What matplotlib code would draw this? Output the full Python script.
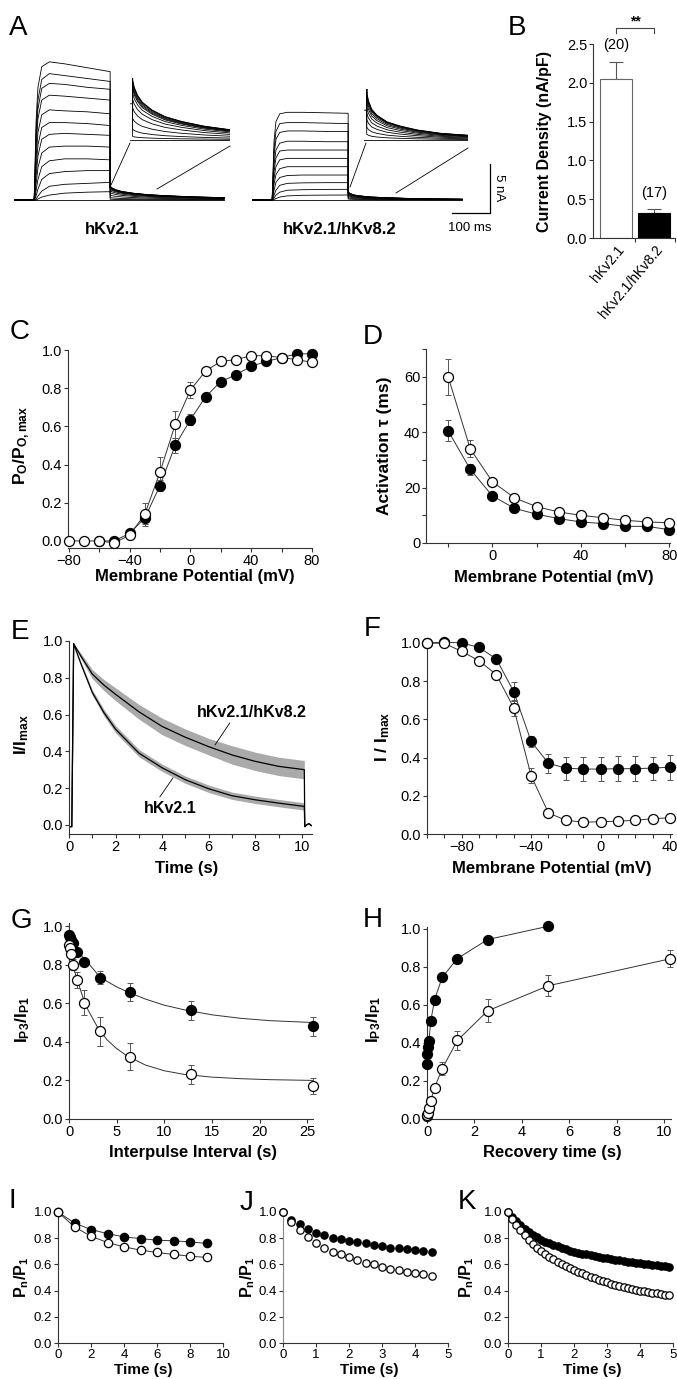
import matplotlib
matplotlib.use("Agg")
import matplotlib.pyplot as plt
import numpy as np
from matplotlib.lines import Line2D
from matplotlib.ticker import FormatStrFormatter, MultipleLocator

plt.rcParams['font.family'] = ['Liberation Sans', 'DejaVu Sans']
plt.rcParams['mathtext.fontset'] = 'custom'
plt.rcParams['mathtext.rm'] = 'Liberation Sans'
plt.rcParams['mathtext.it'] = 'Liberation Sans:italic'
plt.rcParams['mathtext.bf'] = 'Liberation Sans:bold'

# ---------------- data ----------------
# A: current families (nA) at step times (ms)
a_t_step = [53, 55, 58, 63, 73, 93, 133, 193, 253]
a_t_tail = [253, 258, 268, 283, 313, 353, 403, 473, 553]
a1_lvl = [[0, 3.0, 8.0, 11.5, 13.6, 14.1, 13.9, 13.5, 13.1],
          [0, 2.5, 7.0, 10.2, 12.3, 12.9, 12.7, 12.4, 12.1],
          [0, 2.2, 6.2, 9.3, 11.4, 11.9, 11.8, 11.5, 11.3],
          [0, 1.8, 5.3, 8.3, 10.2, 10.7, 10.6, 10.4, 10.2],
          [0, 1.4, 4.2, 6.9, 8.7, 9.2, 9.1, 9.0, 8.8],
          [0, 1.0, 3.2, 5.6, 7.4, 7.9, 7.9, 7.8, 7.6],
          [0, 0.7, 2.4, 4.5, 6.2, 6.7, 6.8, 6.7, 6.6],
          [0, 0.4, 1.6, 3.3, 4.8, 5.4, 5.5, 5.5, 5.4],
          [0, 0.2, 0.9, 2.1, 3.4, 4.0, 4.2, 4.2, 4.1],
          [0, 0.1, 0.4, 1.1, 2.1, 2.7, 2.9, 3.0, 3.0],
          [0, 0.0, 0.1, 0.4, 0.9, 1.4, 1.6, 1.7, 1.8],
          [0, 0.0, 0.0, 0.1, 0.3, 0.5, 0.7, 0.8, 0.85],
          [0, 0, 0, 0, 0, 0, 0, 0, 0]]
a1_amp = [1.4, 1.38, 1.35, 1.3, 1.25, 1.2, 1.1, 0.95, 0.75, 0.5, 0.25, 0.08, 0.0]
a1_shape = [1.0, 0.88, 0.75, 0.63, 0.5, 0.39, 0.31, 0.23, 0.17]
a2_lvl = [[0, 2.5, 6.0, 8.0, 8.8, 8.95, 8.95, 8.9, 8.85],
          [0, 2.1, 5.2, 7.0, 7.8, 7.9, 7.9, 7.85, 7.8],
          [0, 1.8, 4.5, 6.2, 6.9, 7.05, 7.05, 7.0, 7.0],
          [0, 1.4, 3.6, 5.1, 5.8, 6.0, 6.0, 5.95, 5.95],
          [0, 1.1, 2.9, 4.3, 5.0, 5.1, 5.1, 5.1, 5.1],
          [0, 0.8, 2.2, 3.4, 4.1, 4.25, 4.25, 4.25, 4.25],
          [0, 0.5, 1.6, 2.6, 3.2, 3.4, 3.4, 3.4, 3.4],
          [0, 0.3, 1.0, 1.8, 2.3, 2.5, 2.55, 2.55, 2.55],
          [0, 0.1, 0.5, 1.0, 1.5, 1.7, 1.75, 1.77, 1.77],
          [0, 0.0, 0.2, 0.5, 0.8, 1.0, 1.05, 1.08, 1.09],
          [0, 0.0, 0.05, 0.15, 0.3, 0.42, 0.48, 0.5, 0.51],
          [0, 0, 0, 0, 0, 0, 0, 0, 0]]
a2_amp = [0.82, 0.8, 0.78, 0.75, 0.7, 0.64, 0.56, 0.46, 0.35, 0.22, 0.1, 0.0]
a2_shape = [1.0, 0.82, 0.64, 0.52, 0.38, 0.29, 0.21, 0.14, 0.1]

# B: current density
b_kat = ['hKv2.1', 'hKv2.1/hKv8.2']
b_nilai = [2.05, 0.32]
b_err = [0.22, 0.05]
b_n = ['(20)', '(17)']

# C: activation
c_x_open = [-80, -70, -60, -50, -40, -30, -20, -10, 0, 10, 20, 30, 40, 50, 60, 70, 80]
c_open = [0.0, 0.0, 0.0, -0.01, 0.03, 0.14, 0.36, 0.61, 0.79, 0.89, 0.94, 0.95, 0.97, 0.97, 0.96, 0.95, 0.935]
c_open_err = [0, 0, 0, 0, 0.01, 0.06, 0.08, 0.07, 0.04, 0.02, 0.01, 0.01, 0.01, 0.01, 0.01, 0.01, 0.01]
c_x_fill = [-60, -50, -40, -30, -20, -10, 0, 10, 20, 30, 40, 50, 60, 70, 80]
c_fill = [0.0, 0.0, 0.04, 0.12, 0.29, 0.50, 0.635, 0.755, 0.835, 0.87, 0.915, 0.94, 0.96, 0.98, 0.98]
c_fill_err = [0, 0, 0.01, 0.03, 0.03, 0.04, 0.03, 0.02, 0.02, 0.02, 0.02, 0.01, 0.01, 0.01, 0.01]

# D: activation tau
d_x = [-20, -10, 0, 10, 20, 30, 40, 50, 60, 70, 80]
d_open = [60.0, 34.0, 22.1, 16.3, 13.1, 11.2, 10.0, 9.1, 8.2, 7.6, 7.3]
d_open_err = [6.5, 3.0, 1.0, 0.8, 0.6, 0.5, 0.4, 0.4, 0.4, 0.4, 0.4]
d_fill = [40.5, 26.6, 17.0, 12.5, 10.4, 8.8, 7.6, 7.0, 6.0, 6.0, 4.8]
d_fill_err = [3.8, 2.0, 1.0, 0.7, 0.5, 0.4, 0.4, 0.4, 0.3, 0.3, 0.3]

# E: inactivation time course
e_t = [0.2, 0.5, 1, 1.5, 2, 3, 4, 5, 6, 7, 8, 9, 10.1]
e_lo = [0.985, 0.88, 0.72, 0.61, 0.52, 0.39, 0.31, 0.245, 0.196, 0.158, 0.136, 0.118, 0.10]
e_lo_sd = [0.0, 0.01, 0.015, 0.018, 0.02, 0.02, 0.02, 0.02, 0.02, 0.02, 0.02, 0.02, 0.02]
e_hi = [0.985, 0.92, 0.82, 0.76, 0.71, 0.615, 0.535, 0.476, 0.425, 0.38, 0.345, 0.318, 0.30]
e_hi_sd = [0.0, 0.015, 0.025, 0.03, 0.035, 0.04, 0.045, 0.045, 0.045, 0.05, 0.05, 0.05, 0.05]
e_pre_t = [0.0, 0.12]
e_pre = [-0.01, -0.01]
e_post_t = [10.12, 10.2, 10.3, 10.4]
e_post = [-0.01, 0.0, 0.006, -0.004]

# F: steady-state inactivation
f_x = [-100, -90, -80, -70, -60, -50, -40, -30, -20, -10, 0, 10, 20, 30, 40]
f_fill = [1.0, 1.005, 1.0, 0.977, 0.916, 0.745, 0.485, 0.37, 0.345, 0.34, 0.34, 0.342, 0.342, 0.345, 0.35]
f_fill_err = [0, 0, 0, 0.01, 0.02, 0.05, 0.03, 0.05, 0.06, 0.065, 0.065, 0.065, 0.065, 0.06, 0.065]
f_open = [1.0, 0.998, 0.956, 0.907, 0.834, 0.66, 0.305, 0.11, 0.072, 0.062, 0.064, 0.067, 0.072, 0.08, 0.085]
f_open_err = [0, 0, 0.01, 0.01, 0.02, 0.04, 0.04, 0.01, 0.01, 0.01, 0.01, 0.01, 0.01, 0.01, 0.01]

# G: closed-state inactivation
g_x = [0.05, 0.1, 0.2, 0.4, 0.8, 1.6, 3.2, 6.4, 12.8, 25.6]
g_fill = [0.952, 0.945, 0.93, 0.91, 0.866, 0.814, 0.733, 0.659, 0.564, 0.481]
g_fill_err = [0.01, 0.01, 0.01, 0.01, 0.015, 0.02, 0.035, 0.045, 0.05, 0.05]
g_open = [0.90, 0.885, 0.855, 0.80, 0.72, 0.603, 0.455, 0.322, 0.231, 0.171]
g_open_err = [0.01, 0.015, 0.02, 0.03, 0.04, 0.065, 0.075, 0.07, 0.05, 0.04]
g_fit_t = [0, 0.5, 1, 1.5, 2, 3, 4, 5, 6, 8, 10, 12, 15, 18, 21, 25.6]
g_fit_fill = [0.95, 0.90, 0.865, 0.835, 0.81, 0.75, 0.713, 0.685, 0.662, 0.622, 0.59, 0.567, 0.54, 0.522, 0.51, 0.50]
g_fit_open = [0.90, 0.78, 0.70, 0.625, 0.565, 0.475, 0.41, 0.365, 0.33, 0.28, 0.25, 0.232, 0.217, 0.209, 0.204, 0.20]

# H: recovery
h_x_fill = [0.01, 0.02, 0.04, 0.08, 0.16, 0.32, 0.64, 1.28, 2.56, 5.12]
h_fill = [0.29, 0.343, 0.38, 0.41, 0.517, 0.627, 0.745, 0.844, 0.944, 1.014]
h_x_open = [0.01, 0.02, 0.04, 0.08, 0.16, 0.32, 0.64, 1.28, 2.56, 5.12, 10.24]
h_open = [0.015, 0.02, 0.033, 0.056, 0.097, 0.165, 0.264, 0.413, 0.569, 0.701, 0.842]
h_open_err = [0.005, 0.005, 0.01, 0.01, 0.015, 0.02, 0.035, 0.05, 0.06, 0.055, 0.045]

# I, J, K: pulse trains
i_t = [0, 1, 2, 3, 4, 5, 6, 7, 8, 9]
i_fill = [1.0, 0.916, 0.866, 0.835, 0.81, 0.797, 0.785, 0.78, 0.772, 0.76]
i_open = [1.0, 0.886, 0.815, 0.767, 0.734, 0.709, 0.691, 0.676, 0.663, 0.653]
j_t = np.arange(19) * 0.25
j_fill = [1.0, 0.937, 0.906, 0.873, 0.843, 0.823, 0.805, 0.797, 0.78, 0.772, 0.76, 0.747,
          0.739, 0.729, 0.722, 0.716, 0.709, 0.704, 0.696]
j_open = [1.0, 0.924, 0.861, 0.81, 0.767, 0.729, 0.696, 0.678, 0.653, 0.633, 0.613, 0.6,
          0.582, 0.567, 0.557, 0.544, 0.537, 0.524, 0.511]
k_t = np.arange(40) * 0.125
k_fill = [1.0, 0.96, 0.928, 0.899, 0.874, 0.85, 0.828, 0.806, 0.786, 0.772, 0.76, 0.748,
          0.737, 0.727, 0.717, 0.706, 0.696, 0.689, 0.683, 0.676, 0.67, 0.664, 0.658, 0.652,
          0.646, 0.641, 0.636, 0.631, 0.626, 0.621, 0.617, 0.612, 0.608, 0.604, 0.6, 0.596,
          0.592, 0.588, 0.584, 0.58]
k_open = [1.0, 0.945, 0.9, 0.86, 0.823, 0.79, 0.758, 0.728, 0.7, 0.679, 0.659, 0.639,
          0.62, 0.604, 0.588, 0.572, 0.557, 0.544, 0.531, 0.518, 0.506, 0.495, 0.484, 0.473,
          0.463, 0.454, 0.445, 0.436, 0.428, 0.421, 0.414, 0.407, 0.4, 0.394, 0.389, 0.383,
          0.378, 0.373, 0.368, 0.363]

# ---------------- figure ----------------
W, H = 677, 1379
fig = plt.figure(figsize=(W / 100, H / 100), dpi=100)
ABU = '#555555'
GRS = '#333333'


def kotak(x0, y0, x1, y1):  # axes from pixel box
    ax = fig.add_axes([x0 / W, 1 - y1 / H, (x1 - x0) / W, (y1 - y0) / H])
    ax.patch.set_alpha(0)
    return ax


def teks(x, y, s, **kw):
    fig.text(x / W, 1 - y / H, s, ha='center', va='center', **kw)


def garis(x0, y0, x1, y1):
    fig.add_artist(Line2D([x0 / W, x1 / W], [1 - y0 / H, 1 - y1 / H], color='k', lw=0.6))


def gaya(ax, fs=10.5):
    ax.spines['top'].set_visible(False)
    ax.spines['right'].set_visible(False)
    for s in ['left', 'bottom']:
        ax.spines[s].set_linewidth(0.8)
        ax.spines[s].set_color(GRS)
    ax.tick_params(which='both', direction='out', length=3.2, width=0.8, labelsize=fs,
                   pad=1.0, color=GRS)


def titik(ax, x, y, err, isi, ms=7.2):
    if err is not None:
        ax.errorbar(x, y, yerr=err, fmt='none', ecolor=ABU, elinewidth=0.7, capsize=2,
                    capthick=0.7, zorder=2, clip_on=False)
    ax.plot(x, y, 'o', ms=ms, mfc='k' if isi else 'white', mec='k', mew=0.9,
            zorder=4 if not isi else 3, clip_on=False)


def kurva(ax, x, y):
    ax.plot(x, y, '-', color=GRS, lw=0.7, zorder=1, clip_on=False)


# ---- A ----
def jejak(ax, lvl, amp, shape):
    t = [0] + a_t_step + a_t_tail
    y = [0] + list(lvl) + [amp * s for s in shape]
    ax.plot(t, y, color='k', lw=0.6)


axA1 = kotak(14, 55, 240, 215)
axA2 = kotak(252, 55, 500, 215)
axA1.set_xlim(0, 594.7)
axA2.set_xlim(0, 652.6)
inA1 = kotak(130, 78, 230, 142)
inA2 = kotak(364, 89, 468, 143)
for ax in (axA1, axA2):
    ax.set_ylim(-1.53, 14.8)
for lvl, amp in zip(a1_lvl, a1_amp):
    jejak(axA1, lvl, amp, a1_shape)
    jejak(inA1, lvl, amp, a1_shape)
for lvl, amp in zip(a2_lvl, a2_amp):
    jejak(axA2, lvl, amp, a2_shape)
    jejak(inA2, lvl, amp, a2_shape)
inA1.set_xlim(245, 553)
inA1.set_ylim(-0.05, 1.45)
inA2.set_xlim(245, 553)
inA2.set_ylim(-0.05, 0.87)
for ax in (axA1, axA2, inA1, inA2):
    ax.axis('off')
# scale bar: 100 ms, 5 nA
sb_t0, sb_len, sb_i0, sb_amp = 526, 100, -1.33, 5
axA2.plot([sb_t0, sb_t0 + sb_len, sb_t0 + sb_len], [sb_i0, sb_i0, sb_i0 + sb_amp],
          color='k', lw=0.9, clip_on=False)
teks(470, 228, '100 ms', fontsize=9.5)
teks(499, 188, '5 nA', fontsize=9.5, rotation=-90)
garis(111, 185, 130, 143)
garis(157, 189, 230, 146)
garis(350, 187, 366, 143)
garis(396, 193, 468, 148)
teks(112, 230, 'hKv2.1', fontsize=12, fontweight='bold')
teks(340, 230, 'hKv2.1/hKv8.2', fontsize=12, fontweight='bold')

# ---- B ----
axB = kotak(593, 44, 675, 238)
gaya(axB)
axB.bar([0, 1], b_nilai, width=0.86, color=['white', 'black'], edgecolor=['#666666', 'k'],
        linewidth=0.8, zorder=2)
axB.errorbar([0, 1], b_nilai, yerr=[[0, 0], b_err], fmt='none', ecolor=ABU, elinewidth=0.8,
             capsize=5, capthick=0.8, zorder=1)
axB.set_xlim(-0.605, 1.553)
axB.set_ylim(0, 2.5)
axB.set_yticks([0, 0.5, 1.0, 1.5, 2.0, 2.5])
axB.yaxis.set_major_formatter(FormatStrFormatter('%.1f'))
axB.set_xticks([0.5, 1.55])
axB.set_xticklabels([])
for i, nama in enumerate(b_kat):
    axB.text(i + 0.15, -0.12, nama, rotation=50, ha='right', va='center',
             rotation_mode='anchor', fontsize=10)
axB.text(0, 2.49, b_n[0], ha='center', va='center', fontsize=10.5)
axB.text(1, 0.58, b_n[1], ha='center', va='center', fontsize=10.5)
axB.plot([0, 0, 1, 1], [2.64, 2.706, 2.706, 2.64], color='#444444', lw=0.8, clip_on=False)
axB.text(0.5, 2.79, '**', ha='center', va='center', fontsize=10, fontweight='bold')
teks(545, 141, 'Current Density (nA/pF)', rotation=90, fontsize=11.5, fontweight='bold')

# ---- C ----
axC = kotak(68, 350, 312, 548)
gaya(axC)
kurva(axC, c_x_open, c_open)
kurva(axC, c_x_fill, c_fill)
titik(axC, c_x_fill, c_fill, c_fill_err, True)
titik(axC, c_x_open, c_open, c_open_err, False)
axC.set_xlim(-80.5, 80)
axC.set_ylim(-0.037, 1.0)
axC.spines['left'].set_bounds(0, 1)
axC.set_xticks([-80, -40, 0, 40, 80])
axC.xaxis.set_minor_locator(MultipleLocator(20))
axC.set_yticks([0, 0.2, 0.4, 0.6, 0.8, 1.0])
axC.yaxis.set_major_formatter(FormatStrFormatter('%.1f'))
teks(195, 576, 'Membrane Potential (mV)', fontsize=12, fontweight='bold')
teks(22, 445, r'$\mathbf{P_O/P_{O,max}}$', rotation=90, fontsize=12.5)

# ---- D ----
axD = kotak(426, 349, 670, 543)
gaya(axD)
kurva(axD, d_x, d_open)
kurva(axD, d_x, d_fill)
titik(axD, d_x, d_fill, d_fill_err, True)
titik(axD, d_x, d_open, d_open_err, False)
axD.set_xlim(-30, 80.3)
axD.set_ylim(0, 70)
axD.set_xticks([0, 40, 80])
axD.set_xticks([-20, 20, 60], minor=True)
axD.set_yticks([0, 20, 40, 60])
axD.set_yticks([10, 30, 50, 70], minor=True)
teks(554, 578, 'Membrane Potential (mV)', fontsize=12, fontweight='bold')
teks(385, 446, 'Activation τ (ms)', rotation=90, fontsize=12.5, fontweight='bold')

# ---- E ----
axE = kotak(69, 641, 312, 834)
gaya(axE)
e_lo_a, e_hi_a = np.array(e_lo), np.array(e_hi)
axE.fill_between(e_t, e_hi_a - e_hi_sd, e_hi_a + np.array(e_hi_sd), color='#aaaaaa', lw=0)
axE.fill_between(e_t, e_lo_a - e_lo_sd, e_lo_a + np.array(e_lo_sd), color='#aaaaaa', lw=0)
axE.plot(e_pre_t + e_t + e_post_t, e_pre + e_hi + e_post, color='k', lw=0.9)
axE.plot(e_pre_t + e_t + e_post_t, e_pre + e_lo + e_post, color='k', lw=0.9)
axE.set_xlim(0, 10.43)
axE.set_ylim(-0.05, 1.0)
axE.set_xticks([0, 2, 4, 6, 8, 10])
axE.xaxis.set_minor_locator(MultipleLocator(1))
axE.set_yticks([0, 0.2, 0.4, 0.6, 0.8, 1.0])
axE.yaxis.set_major_formatter(FormatStrFormatter('%.1f'))
axE.plot([6.9, 6.27], [0.554, 0.435], color='k', lw=0.6)
axE.text(7.85, 0.61, 'hKv2.1/hKv8.2', ha='center', va='center', fontsize=11.5, fontweight='bold')
axE.plot([3.9, 4.46], [0.152, 0.255], color='k', lw=0.6)
axE.text(4.33, 0.09, 'hKv2.1', ha='center', va='center', fontsize=11.5, fontweight='bold')
teks(187, 868, 'Time (s)', fontsize=12, fontweight='bold')
teks(22, 735, r'$\mathbf{I/I_{max}}$', rotation=90, fontsize=12.5)

# ---- F ----
axF = kotak(427, 643, 672, 834)
gaya(axF)
kurva(axF, f_x, f_fill)
kurva(axF, f_x, f_open)
titik(axF, f_x, f_fill, f_fill_err, True)
titik(axF, f_x, f_open, f_open_err, False)
axF.set_xlim(-100, 41.2)
axF.set_ylim(0, 1.0)
axF.set_xticks([-80, -40, 0, 40])
axF.xaxis.set_minor_locator(MultipleLocator(10))
axF.set_yticks([0, 0.2, 0.4, 0.6, 0.8, 1.0])
axF.yaxis.set_major_formatter(FormatStrFormatter('%.1f'))
teks(552, 869, 'Membrane Potential (mV)', fontsize=12, fontweight='bold')
teks(383, 737, r'$\mathbf{I\ /\ I_{max}}$', rotation=90, fontsize=12.5)

# ---- G ----
axG = kotak(69, 923, 313, 1119)
gaya(axG)
kurva(axG, g_fit_t, g_fit_fill)
kurva(axG, g_fit_t, g_fit_open)
titik(axG, g_x, g_fill, g_fill_err, True)
titik(axG, g_x, g_open, g_open_err, False)
axG.set_xlim(0, 25.6)
axG.set_ylim(0, 1.016)
axG.set_xticks([0, 5, 10, 15, 20, 25])
axG.set_yticks([0, 0.2, 0.4, 0.6, 0.8, 1.0])
axG.yaxis.set_major_formatter(FormatStrFormatter('%.1f'))
teks(193, 1153, 'Interpulse Interval (s)', fontsize=12, fontweight='bold')
teks(23, 1020, r'$\mathbf{I_{P3}/I_{P1}}$', rotation=90, fontsize=12.5)

# ---- H ----
axH = kotak(427, 927, 671, 1119)
gaya(axH)
kurva(axH, h_x_fill, h_fill)
kurva(axH, h_x_open, h_open)
titik(axH, h_x_fill, h_fill, None, True)
titik(axH, h_x_open, h_open, h_open_err, False)
axH.set_xlim(0, 10.3)
axH.set_ylim(0, 1.01)
axH.set_xticks([0, 2, 4, 6, 8, 10])
axH.set_yticks([0, 0.2, 0.4, 0.6, 0.8, 1.0])
axH.yaxis.set_major_formatter(FormatStrFormatter('%.1f'))
teks(552, 1153, 'Recovery time (s)', fontsize=12, fontweight='bold')
teks(374, 1020, r'$\mathbf{I_{P3}/I_{P1}}$', rotation=90, fontsize=12.5)

# ---- I, J, K ----
axI = kotak(58, 1212, 223, 1343)
axJ = kotak(283, 1212, 448, 1343)
axK = kotak(508, 1212, 673, 1343)
for ax in (axI, axJ, axK):
    gaya(ax, fs=9.5)
    ax.set_ylim(0, 1.0)
    ax.set_yticks([0, 0.2, 0.4, 0.6, 0.8, 1.0])
    ax.yaxis.set_major_formatter(FormatStrFormatter('%.1f'))
kurva(axI, i_t, i_fill)
kurva(axI, i_t, i_open)
titik(axI, i_t, i_fill, None, True, ms=6)
titik(axI, i_t, i_open, None, False, ms=6)
axI.set_xlim(0, 10)
axI.set_xticks([0, 2, 4, 6, 8, 10])
titik(axJ, j_t, j_fill, None, True, ms=5.3)
titik(axJ, j_t, j_open, None, False, ms=5.3)
axJ.set_xlim(0, 5)
axJ.set_xticks([0, 1, 2, 3, 4, 5])
axJ.spines['left'].set_color('#888888')
titik(axK, k_t, k_fill, None, True, ms=5.3)
titik(axK, k_t, k_open, None, False, ms=5.3)
axK.set_xlim(0, 5)
axK.set_xticks([0, 1, 2, 3, 4, 5])
for xc, yl in [(143, 22), (369, 248), (592, 467)]:
    teks(xc, 1370, 'Time (s)', fontsize=11, fontweight='bold')
    teks(yl, 1277, r'$\mathbf{P_n/P_1}$', rotation=90, fontsize=11.5)

# panel letters
for huruf, x, y in [('A', 18, 28), ('B', 517, 28), ('C', 20, 332), ('D', 373, 337),
                    ('E', 20, 632), ('F', 372, 629), ('G', 21, 921), ('H', 373, 920),
                    ('I', 12, 1201), ('J', 247, 1203), ('K', 467, 1202)]:
    teks(x, y, huruf, fontsize=20)

fig.savefig('out.png', dpi=100)
